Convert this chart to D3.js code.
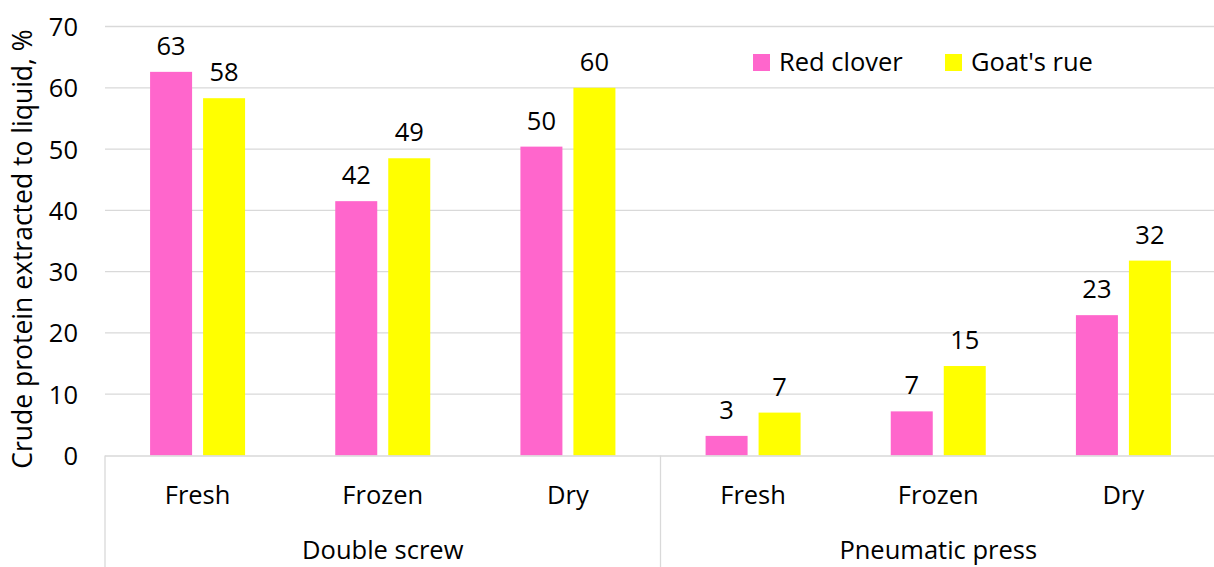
<!DOCTYPE html>
<html><head><meta charset="utf-8">
<script src="https://cdn.jsdelivr.net/npm/d3@7"></script>
<style>body{margin:0;background:#fff}svg{display:block}text{font-family:"Open Sans",sans-serif;fill:#000}</style>
</head><body>
<script>
const groups = ["Double screw","Pneumatic press"];
const states = ["Fresh","Frozen","Dry"];
const series = ["Red clover","Goat's rue"];
const redClover = [62.6, 41.5, 50.4, 3.2, 7.2, 22.9];
const goatsRue  = [58.3, 48.5, 60.0, 7.0, 14.6, 31.8];
const yTicks = [0,10,20,30,40,50,60,70];
const colors = ["#FF66CC","#FFFF00"];

const W=1214,H=567;
const svg=d3.select("body").append("svg").attr("width",W).attr("height",H);
const pL=105,pR=1216,pT=26.5,pB=455.5;
const cats=[];groups.forEach(g=>states.forEach(s=>cats.push(g+"|"+s)));
const x=d3.scaleBand().domain(cats).range([pL,pR]);
const y=d3.scaleLinear().domain([0,70]).range([pB,pT]);
const fs=25.5;

// gridlines
svg.append("g").selectAll("line").data(yTicks.filter(t=>t>0)).join("line")
 .attr("x1",pL).attr("x2",W).attr("y1",d=>y(d)).attr("y2",d=>y(d))
 .attr("stroke","#d9d9d9").attr("stroke-width",1.3);
// y axis labels
const yAxis=d3.axisLeft(y).tickValues(yTicks).tickSize(0).tickPadding(0);
const ya=svg.append("g").attr("transform",`translate(78,0)`).call(yAxis);
ya.select(".domain").remove();
ya.selectAll("text").style("font-size",fs+"px").style("font-family","Open Sans").attr("fill","#000").attr("dy","0.35em");

// bars
const sub=d3.scaleBand().domain(series).range([0,95]).paddingInner(0.2075);
const data=cats.map((c,i)=>({c,vals:[redClover[i],goatsRue[i]]}));
const gBars=svg.append("g");
data.forEach(d=>{
  const gx=x(d.c)+x.bandwidth()/2-47.5;
  d.vals.forEach((v,j)=>{
    const xx=gx+sub(series[j]), bw=sub.bandwidth();
    gBars.append("rect").attr("x",xx).attr("y",y(v)).attr("width",bw).attr("height",y(0)-y(v)).attr("fill",colors[j]);
    gBars.append("text").attr("x",xx+bw/2).attr("y",y(v)-17).attr("text-anchor","middle")
      .style("font-size",fs+"px").text(Math.round(v));
  });
});

// x axis line
svg.append("line").attr("x1",pL).attr("x2",W).attr("y1",pB+0.5).attr("y2",pB+0.5).attr("stroke","#d9d9d9").attr("stroke-width",1.3);
// separators
[pL, x(cats[3]), pR].forEach(v=>{
  svg.append("line").attr("x1",v).attr("x2",v).attr("y1",pB).attr("y2",H).attr("stroke","#d9d9d9").attr("stroke-width",1.3);
});
// category labels
svg.append("g").selectAll("text").data(cats).join("text")
 .attr("x",d=>x(d)+x.bandwidth()/2).attr("y",504).attr("text-anchor","middle")
 .style("font-size",fs+"px").text(d=>d.split("|")[1]);
svg.append("g").selectAll("text").data(groups).join("text")
 .attr("x",(d,i)=>(x(cats[i*3])+x(cats[i*3+2])+x.bandwidth())/2).attr("y",559).attr("text-anchor","middle")
 .style("font-size",fs+"px").text(d=>d);

// y title
svg.append("text").attr("transform",`translate(32,${(pT+pB)/2+8}) rotate(-90)`).attr("text-anchor","middle")
 .style("font-size","26.5px").text("Crude protein extracted to liquid, %");

// legend
const lx=[753,945];
series.forEach((s,i)=>{
  svg.append("rect").attr("x",lx[i]).attr("y",54).attr("width",17).attr("height",17).attr("fill",colors[i]);
  svg.append("text").attr("x",lx[i]+26).attr("y",71).style("font-size",fs+"px").text(s);
});
</script>
</body></html>
